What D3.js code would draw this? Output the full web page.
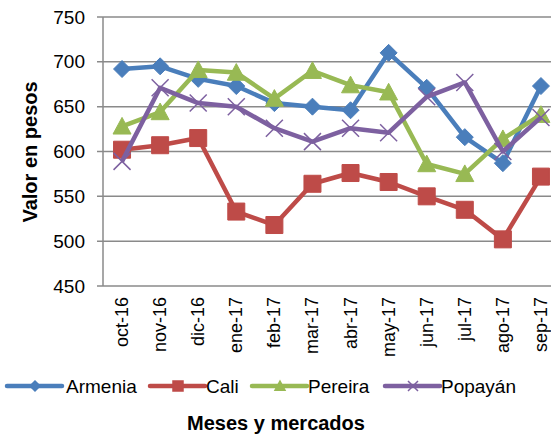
<!DOCTYPE html>
<html><head><meta charset="utf-8">
<script src="https://cdn.jsdelivr.net/npm/d3@7/dist/d3.min.js"></script>
<style>body{margin:0;background:#fff;}svg{display:block;font-family:"Liberation Sans",Arial,sans-serif;}</style>
</head><body>
<svg id="chart" width="551" height="435"></svg>
<script>
const categories = ["oct-16","nov-16","dic-16","ene-17","feb-17","mar-17","abr-17","may-17","jun-17","jul-17","ago-17","sep-17"];
const armenia = [692,695,681,673,654,650,646,710,671,616,587,673];
const cali    = [602,607,615,533,518,564,576,566,550,535,502,572];
const pereira = [628,644,691,688,659,690,674,666,586,575,614,641];
const popayan = [589,671,654,650,626,611,626,621,661,677,600,638];
const yTicks = [450,500,550,600,650,700,750];
const seriesNames = ["Armenia","Cali","Pereira","Popayán"];

const series = [
  {name: seriesNames[0], values: armenia, color: "#4A7EBB", marker: "diamond"},
  {name: seriesNames[1], values: cali,    color: "#BE4B48", marker: "square"},
  {name: seriesNames[2], values: pereira, color: "#98B954", marker: "triangle"},
  {name: seriesNames[3], values: popayan, color: "#7D60A0", marker: "x"}
];

const svg = d3.select("#chart");
const pL = 103, pR = 560, pT = 17, pB = 286;

const x = d3.scaleBand().domain(categories).range([pL, pR]);
const y = d3.scaleLinear().domain([450, 750]).range([pB, pT]);

// gridlines
svg.append("g").selectAll("line").data(yTicks).join("line")
  .attr("x1", pL - 6).attr("x2", pR)
  .attr("y1", d => y(d)).attr("y2", d => y(d))
  .attr("stroke", "#8a8a8a").attr("stroke-width", 1.5);

// left axis line
svg.append("line").attr("x1", pL).attr("x2", pL).attr("y1", pT).attr("y2", pB)
  .attr("stroke", "#8a8a8a").attr("stroke-width", 1.5);

// y tick labels
svg.append("g").selectAll("text").data(yTicks).join("text")
  .attr("x", 85).attr("y", d => y(d)).attr("dy", "0.35em")
  .attr("text-anchor", "end").attr("font-size", 19).attr("fill", "#000")
  .text(d => d);

// x tick labels (rotated)
svg.append("g").selectAll("text").data(categories).join("text")
  .attr("transform", d => `translate(${x(d) + x.bandwidth()/2 + 6},297) rotate(-90)`)
  .attr("text-anchor", "end").attr("font-size", 18).attr("fill", "#000")
  .text(d => d);

// axis titles
svg.append("text").attr("transform", "translate(37,152) rotate(-90)")
  .attr("text-anchor", "middle").attr("font-size", 20).attr("font-weight", "bold")
  .text("Valor en pesos");
svg.append("text").attr("x", 276).attr("y", 430)
  .attr("text-anchor", "middle").attr("font-size", 20).attr("font-weight", "bold")
  .text("Meses y mercados");

function markerPath(type, s) {
  const h = s / 2;
  switch (type) {
    case "diamond": return `M0,${-h}L${h},0L0,${h}L${-h},0Z`;
    case "square": return `M${-h},${-h}H${h}V${h}H${-h}Z`;
    case "triangle": return `M0,${-h}L${h},${h*0.85}L${-h},${h*0.85}Z`;
    case "x": return `M${-h},${-h}L${h},${h}M${-h},${h}L${h},${-h}`;
  }
}
const markerSize = {diamond: 17, square: 17, triangle: 18, x: 17};

const line = d3.line().x((d, i) => x(categories[i]) + x.bandwidth()/2).y(d => y(d));

series.forEach(s => {
  const g = svg.append("g");
  g.append("path").attr("d", line(s.values)).attr("fill", "none")
    .attr("stroke", s.color).attr("stroke-width", 4.5).attr("stroke-linejoin", "round");
  g.selectAll("path.m").data(s.values).join("path").attr("class", "m")
    .attr("transform", (d, i) => `translate(${x(categories[i]) + x.bandwidth()/2},${y(d)})`)
    .attr("d", markerPath(s.marker, markerSize[s.marker]))
    .attr("fill", s.marker === "x" ? "none" : s.color)
    .attr("stroke", s.color).attr("stroke-width", s.marker === "x" ? 1.5 : 1);
});

// legend
const legendItems = [
  {x0: 7, tx: 66}, {x0: 150, tx: 206}, {x0: 252, tx: 308}, {x0: 385, tx: 441}
];
const ly = 386;
series.forEach((s, i) => {
  const L = legendItems[i];
  const g = svg.append("g");
  g.append("line").attr("x1", L.x0).attr("x2", L.x0 + 55).attr("y1", ly).attr("y2", ly)
    .attr("stroke", s.color).attr("stroke-width", 4.5).attr("stroke-linecap", "round");
  g.append("path").attr("transform", `translate(${L.x0 + 28},${ly})`)
    .attr("d", markerPath(s.marker, 10))
    .attr("fill", s.marker === "x" ? "none" : s.color)
    .attr("stroke", s.color).attr("stroke-width", 1.5);
  g.append("text").attr("x", L.tx).attr("y", ly).attr("dy", "0.35em")
    .attr("font-size", 19).attr("fill", "#000").text(s.name);
});
</script>
</body></html>
